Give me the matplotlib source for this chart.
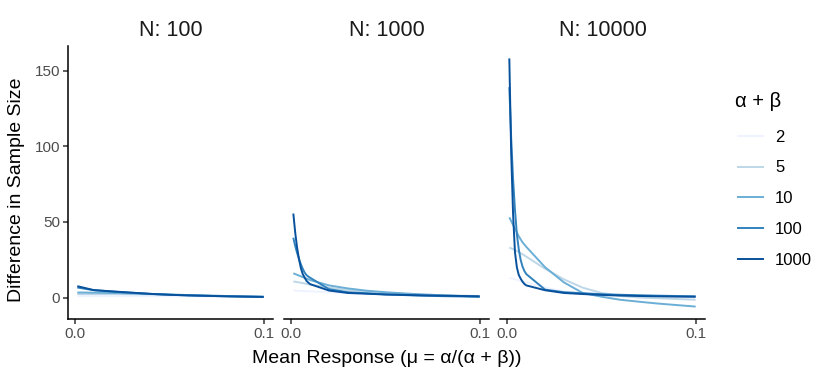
import matplotlib
matplotlib.use("Agg")
import matplotlib.pyplot as plt
from matplotlib.lines import Line2D

plt.rcParams['font.family'] = ['Liberation Sans', 'DejaVu Sans']

# ---- data ----
mu = [0.001, 0.002, 0.003, 0.004, 0.005, 0.006, 0.007, 0.008, 0.009, 0.010,
      0.02, 0.03, 0.04, 0.05, 0.06, 0.07, 0.08, 0.09, 0.10]
panels = ["N: 100", "N: 1000", "N: 10000"]
ab_levels = ["2", "5", "10", "100", "1000"]
colors = ["#EFF3FF", "#BDD7E7", "#6BAED6", "#3182BD", "#08519C"]

# N = 100
n100_ab2 = [1.0, 1.0, 1.0, 1.0, 1.0, 1.0, 1.0, 1.0, 1.0, 1.0,
            1.0, 1.0, 1.0, 0.9, 0.8, 0.7, 0.6, 0.5, 0.4]
n100_ab5 = [2.3, 2.3, 2.3, 2.3, 2.3, 2.3, 2.3, 2.3, 2.3, 2.3,
            2.3, 2.2, 2.1, 1.9, 1.6, 1.3, 1.0, 0.7, 0.5]
n100_ab10 = [3.3, 3.3, 3.3, 3.3, 3.3, 3.3, 3.2, 3.2, 3.2, 3.2,
             3.0, 2.7, 2.3, 2.0, 1.6, 1.3, 1.0, 0.7, 0.5]
n100_ab100 = [6.6, 6.4, 6.2, 6.0, 5.8, 5.6, 5.4, 5.2, 5.0, 4.8,
              3.9, 3.1, 2.4, 1.8, 1.4, 1.1, 0.8, 0.6, 0.4]
n100_ab1000 = [7.5, 7.2, 6.9, 6.6, 6.3, 6.0, 5.7, 5.4, 5.1, 4.9,
               4.0, 3.2, 2.4, 1.8, 1.4, 1.1, 0.8, 0.6, 0.4]

# N = 1000
n1000_ab2 = [4.6, 4.5, 4.5, 4.4, 4.4, 4.3, 4.3, 4.2, 4.2, 4.1,
             3.5, 3.0, 2.6, 2.3, 2.0, 1.7, 1.4, 1.2, 1.0]
n1000_ab5 = [10.6, 10.4, 10.2, 10.0, 9.8, 9.5, 9.3, 9.0, 8.8, 8.5,
             6.5, 5.0, 4.0, 3.0, 2.4, 1.9, 1.5, 1.2, 1.0]
n1000_ab10 = [16.0, 15.5, 15.0, 14.5, 14.0, 13.5, 13.0, 12.5, 12.0, 11.5,
              8.0, 6.0, 4.5, 3.5, 2.7, 2.0, 1.5, 1.0, 0.5]
n1000_ab100 = [39.5, 34.0, 29.5, 25.5, 22.0, 19.0, 16.5, 14.8, 13.8, 13.0,
               5.5, 3.5, 2.8, 2.0, 1.6, 1.2, 0.9, 0.7, 0.5]
n1000_ab1000 = [55.5, 43.0, 33.0, 25.5, 19.5, 15.5, 13.2, 11.0, 9.8, 8.8,
                4.6, 3.0, 2.5, 2.0, 1.7, 1.4, 1.2, 1.0, 0.8]

# N = 10000
n10000_ab2 = [13.0, 12.7, 12.3, 12.0, 11.7, 11.3, 11.0, 10.7, 10.3, 10.0,
              6.5, 4.0, 2.5, 1.5, 1.0, 0.6, 0.3, 0.1, 0.0]
n10000_ab5 = [33.0, 32.5, 32.0, 31.3, 30.7, 30.0, 29.3, 28.6, 27.8, 27.0,
              19.0, 12.0, 6.5, 3.0, 1.0, 0.0, -0.5, -1.0, -1.5]
n10000_ab10 = [53.0, 50.5, 48.0, 45.5, 43.0, 40.5, 38.5, 36.5, 35.0, 33.5,
               20.0, 10.0, 3.0, 0.5, -1.5, -2.8, -4.0, -5.0, -6.0]
n10000_ab100 = [139.0, 105.0, 78.0, 58.0, 42.0, 32.0, 25.0, 20.5, 17.5, 15.5,
                5.2, 3.5, 2.8, 2.2, 1.8, 1.5, 1.2, 1.0, 0.8]
n10000_ab1000 = [158.0, 95.0, 55.0, 30.0, 20.0, 15.0, 12.5, 10.5, 9.0, 8.0,
                 4.8, 3.0, 2.3, 1.7, 1.3, 1.0, 0.8, 0.6, 0.5]

panel_data = [
    [n100_ab2, n100_ab5, n100_ab10, n100_ab100, n100_ab1000],
    [n1000_ab2, n1000_ab5, n1000_ab10, n1000_ab100, n1000_ab1000],
    [n10000_ab2, n10000_ab5, n10000_ab10, n10000_ab100, n10000_ab1000],
]

# ---- figure ----
W, H = 830, 383
fig = plt.figure(figsize=(W / 100, H / 100), dpi=100)

lefts = [68, 284, 500]
pw = 205
top, bottom = 46, 319

all_y = [v for p in panel_data for s in p for v in s]
ymin, ymax = min(all_y), max(all_y)
yr = ymax - ymin
xmin, xmax = min(mu), max(mu)
xr = xmax - xmin

tick_col = "#4D4D4D"
for i, (lab, series) in enumerate(zip(panels, panel_data)):
    ax = fig.add_axes([lefts[i] / W, (H - bottom) / H, pw / W, (bottom - top) / H])
    for s, c in zip(series, colors):
        ax.plot(mu, s, color=c, lw=1.4, solid_capstyle='butt')
    ax.set_xlim(xmin - 0.05 * xr, xmax + 0.05 * xr)
    ax.set_ylim(ymin - 0.05 * yr, ymax + 0.05 * yr)
    ax.set_xticks([0.0, 0.1])
    ax.set_xticklabels(["0.0", "0.1"])
    ax.set_yticks([0, 50, 100, 150])
    for sp in ["top", "right"]:
        ax.spines[sp].set_visible(False)
    ax.spines["bottom"].set_linewidth(1.1)
    ax.spines["left"].set_linewidth(1.1)
    ax.tick_params(axis='both', colors="#333333", labelcolor=tick_col,
                   labelsize=11, length=3.5, width=1.1, pad=2)
    if i > 0:
        ax.spines["left"].set_visible(False)
        ax.tick_params(axis='y', left=False, labelleft=False)
    ax.patch.set_visible(False)
    fig.text((lefts[i] + pw / 2) / W, 1 - 36 / H, lab, ha='center',
             va='baseline', fontsize=15.5, color="#1A1A1A")

fig.text(387 / W, 1 - 363 / H, "Mean Response (\u03bc = \u03b1/(\u03b1 + \u03b2))",
         ha='center', va='baseline', fontsize=14)
fig.text(16.5 / W, 1 - 302 / H, "Difference in Sample Size",
         rotation=90, ha='center', va='bottom', fontsize=14)

# legend title and entries
fig.text(735 / W, 1 - 107 / H, "\u03b1 + \u03b2", ha='left', va='baseline',
         fontsize=14.5)
handles = [Line2D([], [], color=c, lw=1.4) for c in colors]
leg = fig.legend(handles, ab_levels,
                 loc='upper left', bbox_to_anchor=(738 / W, 1 - 129.5 / H),
                 frameon=False, fontsize=12,
                 handlelength=1.5, handletextpad=0.72, labelspacing=0.95,
                 borderpad=0, borderaxespad=0)

fig.savefig("out.png", dpi=100)
